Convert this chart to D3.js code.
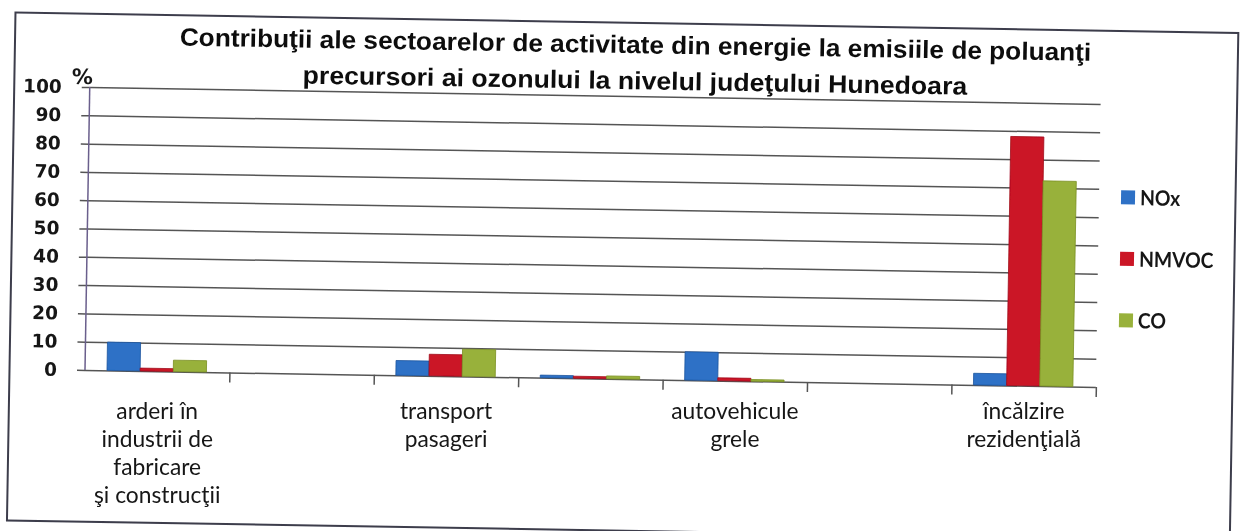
<!DOCTYPE html>
<html>
<head>
<meta charset="utf-8">
<script src="https://cdn.jsdelivr.net/npm/d3@7"></script>
<style>
  html, body { margin: 0; padding: 0; background: #fff; }
  svg { display: block; }
</style>
</head>
<body>
<svg id="chart" width="1242" height="531"></svg>
<script>
// ---- data ----
const titleLines = [
  "Contribuţii ale sectoarelor de activitate din energie la emisiile de poluanţi",
  "precursori ai ozonului la nivelul judeţului Hunedoara"
];
// category labels, one array of lines per slot (some slots carry no label)
const categoryLabels = [
  ["arderi în", "industrii de", "fabricare", "şi construcţii"],
  [],
  ["transport", "pasageri"],
  [],
  ["autovehicule", "grele"],
  [],
  ["încălzire", "rezidenţială"]
];
const seriesNames = ["NOx", "NMVOC", "CO"];
const noxValues   = [10, 0, 5.2, 0.9, 10, 0, 4.1];
const nmvocValues = [1.0, 0, 7.6, 0.7, 1.0, 0, 88];
const coValues    = [4.0, 0, 9.6, 1.0, 0.6, 0, 72.5];
const yTicks = [0, 10, 20, 30, 40, 50, 60, 70, 80, 90, 100];
const yUnit = "%";
const seriesColors = ["#2d71c6", "#cb1426", "#98b13a"];
const seriesEdges  = ["#1d549e", "#a10d1b", "#7a8f22"];

// ---- layout ----
const svg = d3.select("#chart");
const plotLeft = 85, plotRight = 1096, plotTop = 87, plotBottom = 370;
const tilt = 0.96;

const defs = svg.append("defs");
defs.append("filter").attr("id", "soft")
  .append("feGaussianBlur").attr("stdDeviation", 0.3);

const root = svg.append("g").attr("filter", "url(#soft)");
const page = root.append("g")
  .attr("transform", `rotate(${tilt}, ${plotLeft}, ${plotBottom})`);

// outer frame
page.append("rect")
  .attr("x", 9.5).attr("y", 13.7)
  .attr("width", 1223).attr("height", 508)
  .attr("fill", "none")
  .attr("stroke", "#3c3d4c")
  .attr("stroke-width", 2);

// title: each line squeezed to its width, words kept as separate runs
const titleY = [44, 80];
const titleWidths = [912, 665];
titleLines.forEach((line, i) => {
  const g = page.append("g");
  const t = g.append("text")
    .attr("text-anchor", "middle")
    .style("font-family", "'Liberation Sans', Arial, sans-serif")
    .style("font-weight", "bold")
    .style("font-size", "25px")
    .style("fill", "#111")
    .style("white-space", "pre");
  const words = line.split(" ");
  t.selectAll("tspan")
    .data(words)
    .join("tspan")
    .text((d, k) => k < words.length - 1 ? d + " " : d);
  const natural = t.node().getComputedTextLength();
  g.attr("transform", `translate(630,${titleY[i]}) scale(${titleWidths[i] / natural},1)`);
});

// scales
const n = categoryLabels.length;
const x = d3.scaleBand().domain(d3.range(n)).range([plotLeft, plotRight]).padding(0);
const xs = d3.scaleBand().domain(seriesNames).range([22, x.bandwidth() - 23]).padding(0);
const y = d3.scaleLinear().domain([0, 100]).range([plotBottom, plotTop]);
const xEdge = d3.scaleLinear().domain([0, n]).range([plotLeft, plotRight]);

// gridlines
const grid = page.append("g")
  .attr("transform", `translate(${plotLeft},0)`)
  .call(d3.axisLeft(y).tickValues(yTicks).tickSize(-(plotRight - plotLeft)).tickFormat(""));
grid.select(".domain").remove();
grid.selectAll(".tick line")
  .attr("stroke", "#555")
  .attr("stroke-width", 1.5);

// y axis with labels
const yAxis = page.append("g")
  .attr("transform", `translate(${plotLeft},0)`)
  .call(d3.axisLeft(y).tickValues(yTicks).tickSize(8).tickPadding(20));
yAxis.select(".domain").remove();
yAxis.selectAll(".tick line").attr("stroke", "#555").attr("stroke-width", 1.5);
yAxis.selectAll(".tick text")
  .style("font-family", "'DejaVu Sans', sans-serif")
  .style("font-weight", "bold")
  .style("font-size", "18.5px")
  .style("fill", "#151515");

page.append("line")
  .attr("x1", plotLeft).attr("x2", plotLeft)
  .attr("y1", y(100)).attr("y2", y(0))
  .attr("stroke", "#6a5f8c").attr("stroke-width", 1.5);

page.append("text")
  .attr("x", 67).attr("y", 84)
  .style("font-family", "'DejaVu Sans', sans-serif")
  .style("font-weight", "bold")
  .style("font-size", "21px")
  .style("fill", "#151515")
  .text(yUnit);

// x axis: ticks on slot boundaries
const xAxis = page.append("g")
  .attr("transform", `translate(0,${plotBottom})`)
  .call(d3.axisBottom(xEdge).tickValues(d3.range(1, n + 1)).tickSize(10).tickFormat(""));
xAxis.select(".domain").remove();
xAxis.selectAll(".tick line").attr("stroke", "#555").attr("stroke-width", 1.5);

// bars
const series = [noxValues, nmvocValues, coValues];
const bars = page.append("g");
series.forEach((vals, si) => {
  bars.append("g").selectAll("rect")
    .data(vals)
    .join("rect")
    .attr("x", (d, i) => x(i) + xs(seriesNames[si]))
    .attr("width", xs.bandwidth())
    .attr("y", d => y(d))
    .attr("height", d => y(0) - y(d))
    .attr("fill", seriesColors[si])
    .attr("stroke", d => d > 0 ? seriesEdges[si] : "none")
    .attr("stroke-width", 0.8);
});

// category labels sit level below the axis
const labels = root.append("g");
categoryLabels.forEach((lines, i) => {
  labels.append("g")
    .attr("transform", `translate(${x(i) + x.bandwidth() / 2},419) scale(0.95,1)`)
    .append("text")
    .attr("text-anchor", "middle")
    .style("font-family", "Lato, 'Open Sans', sans-serif")
    .style("font-size", "24px")
    .style("fill", "#161616")
    .selectAll("tspan")
    .data(lines)
    .join("tspan")
    .attr("x", 0)
    .attr("y", (d, k) => k * 28)
    .text(d => d);
});

// legend
const legend = page.append("g");
seriesNames.forEach((name, i) => {
  const cy = 180 + i * 61.5;
  legend.append("rect")
    .attr("x", 1118).attr("y", cy - 7)
    .attr("width", 14).attr("height", 14)
    .attr("fill", seriesColors[i]);
  legend.append("g")
    .attr("transform", `translate(1137,${cy + 7.5}) scale(0.92,1)`)
    .append("text")
    .style("font-family", "Lato, 'Open Sans', sans-serif")
    .style("font-weight", "bold")
    .style("font-size", "21px")
    .style("fill", "#151515")
    .text(name);
});
</script>
</body>
</html>
